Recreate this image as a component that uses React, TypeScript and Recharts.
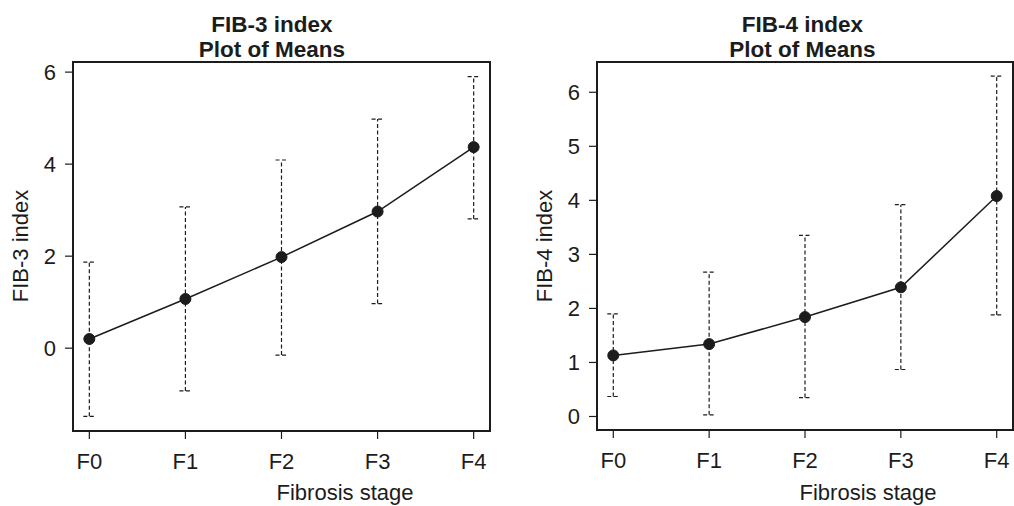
import { ComposedChart, ErrorBar, Line, ReferenceArea, XAxis, YAxis } from 'recharts';

const stages = ['F0', 'F1', 'F2', 'F3', 'F4'];

const fib3Mean = [0.2, 1.07, 1.98, 2.97, 4.37];
const fib3Low = [-1.48, -0.93, -0.15, 0.97, 2.81];
const fib3High = [1.87, 3.07, 4.09, 4.98, 5.9];
const fib3Ticks = [0, 2, 4, 6];

const fib4Mean = [1.13, 1.34, 1.84, 2.39, 4.08];
const fib4Low = [0.37, 0.03, 0.35, 0.87, 1.88];
const fib4High = [1.9, 2.67, 3.35, 3.92, 6.3];
const fib4Ticks = [0, 1, 2, 3, 4, 5, 6];

const INK = '#1c1c1c';
const FONT = '"Liberation Sans", Arial, Helvetica, sans-serif';
const X_DOMAIN: [number, number] = [-0.17, 4.17];

function buildRows(mean: number[], low: number[], high: number[]) {
  return stages.map((_, i) => ({
    x: i,
    mean: mean[i],
    err: [mean[i] - low[i], high[i] - mean[i]],
  }));
}

interface PanelProps {
  rows: Array<{ x: number; mean: number; err: number[] }>;
  yDomain: [number, number];
  yTicks: number[];
  yAxisWidth: number;
  xAxisHeight: number;
  marginRight: number;
}

function MeansPanel({ rows, yDomain, yTicks, yAxisWidth, xAxisHeight, marginRight }: PanelProps) {
  const axisLine = { stroke: INK, strokeWidth: 2 };
  const tickLine = { stroke: INK, strokeWidth: 1.2 };
  const tick = { fill: INK, fontSize: 22, fontFamily: FONT };
  return (
    <ComposedChart
      width={507}
      height={506}
      data={rows}
      margin={{ top: 62, right: marginRight, bottom: 0, left: 0 }}
    >
      <XAxis
        dataKey="x"
        type="number"
        domain={X_DOMAIN}
        ticks={[0, 1, 2, 3, 4]}
        tickFormatter={(v) => stages[Number(v)]}
        tick={tick}
        tickLine={tickLine}
        tickSize={8}
        tickMargin={14}
        axisLine={axisLine}
        height={xAxisHeight}
        allowDataOverflow
      />
      <YAxis
        type="number"
        domain={yDomain}
        ticks={yTicks}
        tick={tick}
        tickLine={tickLine}
        tickSize={8}
        tickMargin={9}
        axisLine={axisLine}
        width={yAxisWidth}
        allowDataOverflow
      />
      {/* the R-style box round the plot */}
      <ReferenceArea
        x1={X_DOMAIN[0]}
        x2={X_DOMAIN[1]}
        y1={yDomain[0]}
        y2={yDomain[1]}
        fill="none"
        stroke={INK}
        strokeWidth={2}
        ifOverflow="visible"
      />
      <Line
        dataKey="mean"
        type="linear"
        stroke={INK}
        strokeWidth={1.5}
        dot={{ r: 5.5, fill: INK, stroke: INK, strokeWidth: 1 }}
        activeDot={false}
        isAnimationActive={false}
      >
        <ErrorBar
          dataKey="err"
          direction="y"
          width={6}
          stroke={INK}
          strokeWidth={1.2}
          strokeDasharray="4 2.5"
          isAnimationActive={false}
        />
      </Line>
    </ComposedChart>
  );
}

export default function App() {
  const title = { fontFamily: FONT, fontSize: 22.5, fontWeight: 700, fill: INK } as const;
  const label = { fontFamily: FONT, fontSize: 22, fill: INK } as const;
  return (
    <div style={{ position: 'absolute', left: 0, top: 0, width: 1014, height: 506, background: '#fff', overflow: 'hidden' }}>
      <div style={{ position: 'absolute', left: 0, top: 0 }}>
        <MeansPanel
          rows={buildRows(fib3Mean, fib3Low, fib3High)}
          yDomain={[-1.8, 6.22]}
          yTicks={fib3Ticks}
          yAxisWidth={73}
          xAxisHeight={75}
          marginRight={17}
        />
      </div>
      <div style={{ position: 'absolute', left: 507, top: 0 }}>
        <MeansPanel
          rows={buildRows(fib4Mean, fib4Low, fib4High)}
          yDomain={[-0.25, 6.56]}
          yTicks={fib4Ticks}
          yAxisWidth={90}
          xAxisHeight={76}
          marginRight={1}
        />
      </div>
      <svg width={1014} height={506} style={{ position: 'absolute', left: 0, top: 0, pointerEvents: 'none' }}>
        <text x={272} y={32} textAnchor="middle" {...title}>FIB-3 index</text>
        <text x={272} y={57} textAnchor="middle" {...title}>Plot of Means</text>
        <text x={802.5} y={32} textAnchor="middle" {...title}>FIB-4 index</text>
        <text x={802.5} y={57} textAnchor="middle" {...title}>Plot of Means</text>
        <text x={28} y={246} textAnchor="middle" transform="rotate(-90 28 246)" {...label}>FIB-3 index</text>
        <text x={552} y={246} textAnchor="middle" transform="rotate(-90 552 246)" {...label}>FIB-4 index</text>
        <text x={345} y={500} textAnchor="middle" {...label}>Fibrosis stage</text>
        <text x={868} y={500} textAnchor="middle" {...label}>Fibrosis stage</text>
      </svg>
    </div>
  );
}
